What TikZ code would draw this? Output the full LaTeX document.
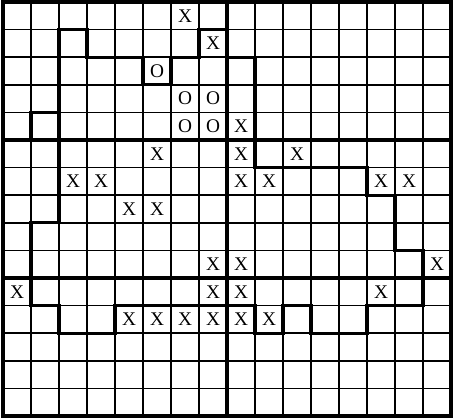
\documentclass[tikz,border=0pt]{standalone}
\usepackage{fontspec}
\setmainfont{Liberation Serif}
\usepackage{xcolor}
\definecolor{ink}{HTML}{000000}
\definecolor{paperbg}{HTML}{FFFFFF}
\tikzset{
  board diagram/.style={
    x=0.56cm,
    y=0.552cm,
    line join=miter
  },
  cellrule/.style={draw=ink, line width=1.0pt},
  blockrule/.style={draw=ink, line width=1.9pt},
  framerule/.style={draw=ink, line width=2.2pt},
  wallrule/.style={draw=ink, line width=1.9pt, line cap=rect},
  xstone/.style={
    font=\fontsize{11}{12}\selectfont,
    text=ink,
    inner sep=0pt
  },
  ostone/.style={xstone}
}

\begin{document}
\begin{tikzpicture}[board diagram]
\path[use as bounding box, fill=paperbg] (-0.107,-0.145) rectangle (16.071,15.072);
% cells
\foreach \i in {1,...,15}
  \draw[cellrule] (\i,0) -- (\i,15);
\foreach \j in {1,...,14}
  \draw[cellrule] (0,\j) -- (16,\j);
% blocks
\draw[blockrule] (8,0) -- (8,15);
\draw[blockrule] (0,5) -- (16,5);
\draw[blockrule] (0,10) -- (16,10);
\draw[framerule] (0,0) rectangle (16,15);
% wall
\draw[wallrule] (2,14) -- (3,14) -- (3,13) -- (5,13) -- (5,12) -- (6,12) -- (6,13)
  -- (7,13) -- (7,14) -- (8,14) -- (8,13) -- (9,13) -- (9,9) -- (13,9) -- (13,8)
  -- (14,8) -- (14,6) -- (15,6) -- (15,4) -- (13,4) -- (13,3) -- (11,3) -- (11,4)
  -- (10,4) -- (10,3) -- (9,3) -- (9,4) -- (4,4) -- (4,3) -- (2,3) -- (2,4)
  -- (1,4) -- (1,7) -- (2,7) -- cycle;
\draw[wallrule] (2,11) -- (1,11) -- (1,10);
% stones
\foreach \c/\r in {6/0,7/1,8/4,5/5,8/5,10/5,2/6,3/6,8/6,9/6,13/6,14/6,4/7,5/7,
  7/9,8/9,15/9,0/10,7/10,8/10,13/10,4/11,5/11,6/11,7/11,8/11,9/11}
  \node[xstone] (x-\c-\r) at (\c+0.5,14.5-\r) {X};
\foreach \c/\r in {5/2,6/3,7/3,6/4,7/4}
  \node[ostone] (o-\c-\r) at (\c+0.5,14.5-\r) {O};
\end{tikzpicture}
\end{document}
